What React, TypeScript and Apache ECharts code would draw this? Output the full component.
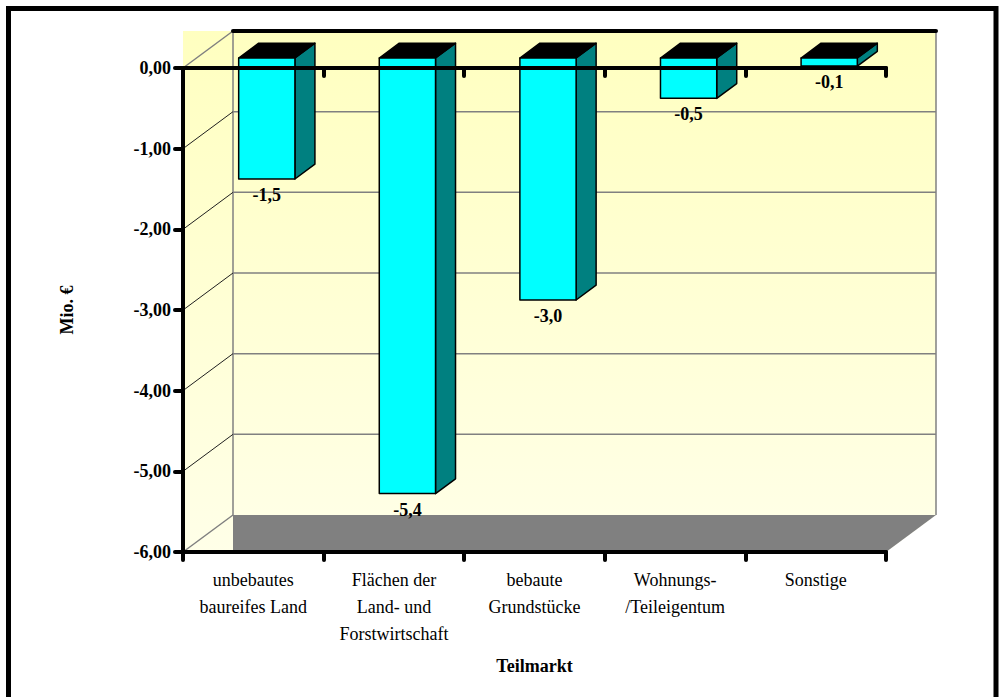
import React, { useEffect, useRef } from 'react';
import * as echarts from 'echarts';

// Teilmarkt categories and their change in Mio. €
const categories = [
  'unbebautes\nbaureifes Land',
  'Flächen der\nLand- und\nForstwirtschaft',
  'bebaute\nGrundstücke',
  'Wohnungs-\n/Teileigentum',
  'Sonstige',
];
const changes = [-1.5, -5.4, -3.0, -0.5, -0.1];

// value axis range and the gridlines drawn on the back wall
const yMin = -6;
const yMax = 0;
const yStep = 1;
const gridValues = [-1, -2, -3, -4, -5];

// 3D look: depth offset of the back wall, bar position in depth
const DX = 50;
const DY = -37;
const BAR_FRONT = 0.27;
const BAR_BACK = 0.67;
const BAR_WIDTH = 0.4;

const FONT = '"Liberation Serif", "Times New Roman", serif';

const fmtAxis = (v: number) => v.toFixed(2).replace('.', ',');
const fmtBar = (v: number) => v.toFixed(1).replace('.', ',');

export default function App() {
  const ref = useRef<HTMLDivElement>(null);

  useEffect(() => {
    if (!ref.current) return;
    const chart = echarts.init(ref.current, undefined, { renderer: 'svg' });

    const wallFill = new echarts.graphic.LinearGradient(0, 0, 0, 1, [
      { offset: 0, color: '#FFFFC0' },
      { offset: 1, color: '#FFFFE8' },
    ]);

    const axisLineStyle = { color: '#000', width: 4, cap: 'round' as const };

    const option: any = {
      animation: false,
      backgroundColor: '#fff',
      grid: { left: 183, right: 116, top: 68, bottom: 145, containLabel: false },
      graphic: [
        {
          type: 'rect',
          shape: { x: 8.5, y: 8.5, width: 987.5, height: 720 },
          style: { fill: 'none', stroke: '#000', lineWidth: 5 },
          z: 100,
        },
      ],
      xAxis: [
        {
          type: 'category',
          data: categories,
          position: 'bottom',
          z: 10,
          axisLine: { show: true, onZero: false, lineStyle: axisLineStyle },
          axisTick: { show: true, length: 8, lineStyle: axisLineStyle },
          axisLabel: {
            interval: 0,
            margin: 14,
            fontFamily: FONT,
            fontSize: 18,
            lineHeight: 27,
            color: '#000',
          },
          splitLine: { show: false },
          name: 'Teilmarkt',
          nameLocation: 'middle',
          nameGap: 105,
          nameTextStyle: { fontFamily: FONT, fontSize: 18, fontWeight: 'bold', color: '#000' },
        },
        {
          type: 'category',
          data: categories,
          position: 'top',
          z: 10,
          axisLine: { show: true, onZero: false, lineStyle: axisLineStyle },
          axisTick: { show: true, inside: true, length: 8, lineStyle: axisLineStyle },
          axisLabel: { show: false },
          splitLine: { show: false },
        },
      ],
      yAxis: {
        type: 'value',
        min: yMin,
        max: yMax,
        interval: yStep,
        z: 10,
        axisLine: { show: true, onZero: false, lineStyle: axisLineStyle },
        axisTick: { show: true, length: 8, lineStyle: axisLineStyle },
        splitLine: { show: false },
        axisLabel: {
          formatter: fmtAxis,
          margin: 12,
          fontFamily: FONT,
          fontSize: 18,
          fontWeight: 'bold',
          color: '#000',
        },
        name: 'Mio. €',
        nameLocation: 'middle',
        nameGap: 107,
        nameTextStyle: { fontFamily: FONT, fontSize: 18, fontWeight: 'bold', color: '#000' },
      },
      series: [
        {
          // back wall, side wall and floor
          type: 'custom',
          z: 1,
          silent: true,
          data: [[0, 0]],
          renderItem: (params: any) => {
            const cs = params.coordSys;
            const L = cs.x;
            const R = cs.x + cs.width;
            const T = cs.y;
            const B = cs.y + cs.height;
            const BL = L + DX;
            const BR = R + DX;
            const BT = T + DY;
            const BB = B + DY;
            const gray = { stroke: '#808080', lineWidth: 1.5 };
            return {
              type: 'group',
              children: [
                {
                  type: 'polygon',
                  shape: { points: [[L, BT], [BR, BT], [BR, BB], [R, B], [L, B]] },
                  style: { fill: wallFill },
                },
                {
                  type: 'polygon',
                  shape: { points: [[BL, BB], [BR, BB], [R, B], [BL, B]] },
                  style: { fill: '#808080' },
                },
                { type: 'line', shape: { x1: BL, y1: BT, x2: BL, y2: BB }, style: gray },
                { type: 'line', shape: { x1: BR, y1: BT, x2: BR, y2: BB }, style: gray },
                { type: 'line', shape: { x1: L, y1: T, x2: BL, y2: BT }, style: gray },
                { type: 'line', shape: { x1: L, y1: B, x2: BL, y2: BB }, style: gray },
                {
                  type: 'line',
                  shape: { x1: BL, y1: BT, x2: BR, y2: BT },
                  style: { stroke: '#000', lineWidth: 4, lineCap: 'round' },
                },
              ],
            };
          },
        },
        {
          // gridlines on the back wall and side wall
          type: 'custom',
          z: 2,
          silent: true,
          data: gridValues.map((v) => [0, v]),
          renderItem: (params: any, api: any) => {
            const cs = params.coordSys;
            const L = cs.x;
            const R = cs.x + cs.width;
            const y = api.coord([0, api.value(1)])[1];
            return {
              type: 'group',
              children: [
                {
                  type: 'line',
                  shape: { x1: L, y1: y, x2: L + DX, y2: y + DY },
                  style: { stroke: '#202020', lineWidth: 1 },
                },
                {
                  type: 'line',
                  shape: { x1: L + DX, y1: y + DY, x2: R + DX, y2: y + DY },
                  style: { stroke: '#808080', lineWidth: 1.5 },
                },
              ],
            };
          },
        },
        {
          // 3D bars with value labels
          type: 'custom',
          z: 3,
          data: changes.map((v, i) => [i, v]),
          renderItem: (params: any, api: any) => {
            const i = api.value(0);
            const v = api.value(1);
            const p0 = api.coord([i, 0]);
            const p1 = api.coord([i, v]);
            const bw = api.size([1, 0])[0];
            const w = bw * BAR_WIDTH;
            const cx = p0[0] + DX * BAR_FRONT;
            const x0 = cx - w / 2;
            const x1 = cx + w / 2;
            const yTop = p0[1] + DY * BAR_FRONT;
            const yBot = p1[1] + DY * BAR_FRONT;
            const ddx = DX * (BAR_BACK - BAR_FRONT);
            const ddy = DY * (BAR_BACK - BAR_FRONT);
            const edge = { stroke: '#000', lineWidth: 1.5, lineJoin: 'round' };
            return {
              type: 'group',
              children: [
                {
                  type: 'polygon',
                  shape: { points: [[x1, yTop], [x1 + ddx, yTop + ddy], [x1 + ddx, yBot + ddy], [x1, yBot]] },
                  style: { fill: '#008080', ...edge },
                },
                {
                  type: 'polygon',
                  shape: { points: [[x0, yTop], [x0 + ddx, yTop + ddy], [x1 + ddx, yTop + ddy], [x1, yTop]] },
                  style: { fill: '#000', ...edge },
                },
                {
                  type: 'polygon',
                  shape: { points: [[x0, yTop], [x1, yTop], [x1, yBot], [x0, yBot]] },
                  style: { fill: '#00FFFF', ...edge },
                },
                {
                  type: 'text',
                  style: {
                    text: fmtBar(v),
                    x: cx,
                    y: yBot + 7,
                    align: 'center',
                    verticalAlign: 'top',
                    fontFamily: FONT,
                    fontSize: 18,
                    fontWeight: 'bold',
                    fill: '#000',
                  },
                },
              ],
            };
          },
        },
      ],
    };

    chart.setOption(option);
    return () => chart.dispose();
  }, []);

  return (
    <div
      ref={ref}
      style={{ position: 'fixed', left: 0, top: 0, width: 1002, height: 697, background: '#fff' }}
    />
  );
}
